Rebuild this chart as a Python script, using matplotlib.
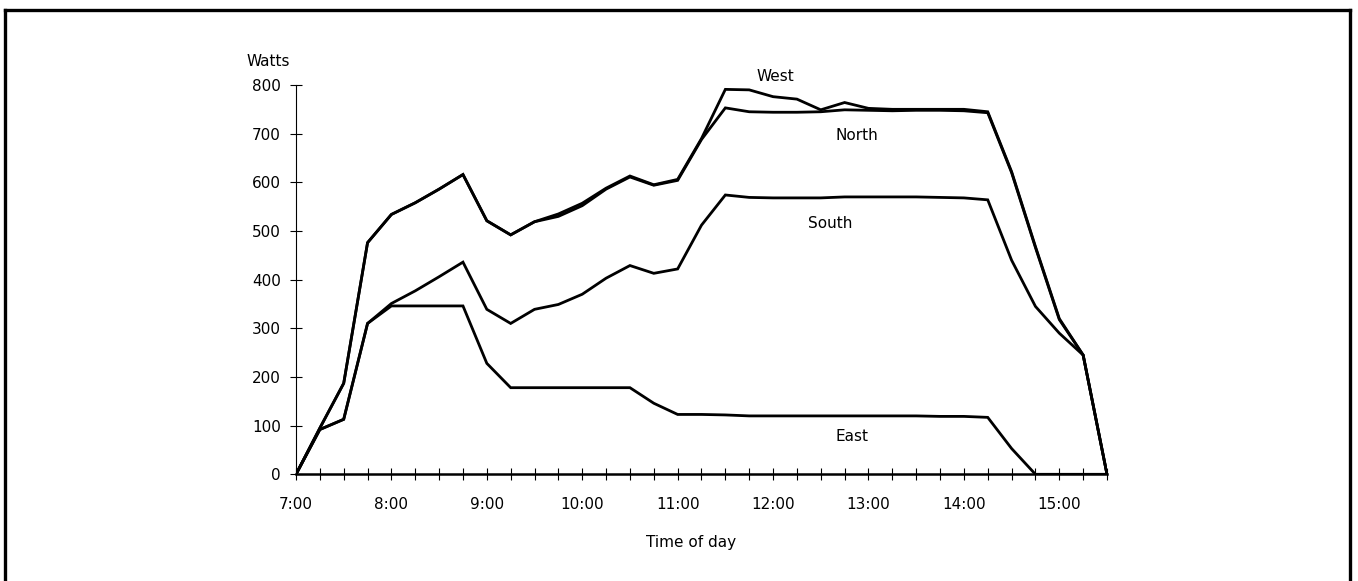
import matplotlib
matplotlib.use("Agg")
import matplotlib.pyplot as plt
from matplotlib.lines import Line2D
import numpy as np

# quarter-hour readings, 7:00 to 15:30
times = ["7:00", "7:15", "7:30", "7:45", "8:00", "8:15", "8:30", "8:45",
         "9:00", "9:15", "9:30", "9:45", "10:00", "10:15", "10:30", "10:45",
         "11:00", "11:15", "11:30", "11:45", "12:00", "12:15", "12:30", "12:45",
         "13:00", "13:15", "13:30", "13:45", "14:00", "14:15", "14:30", "14:45",
         "15:00", "15:15", "15:30"]

west = [0, 95, 187, 476, 534, 558, 586, 616, 521, 492, 519, 535, 557, 588, 613, 595,
        606, 690, 791, 790, 776, 771, 749, 764, 752, 750, 750, 750, 750, 745, 622, 468,
        320, 245, 0]
north = [0, 95, 187, 476, 534, 558, 586, 616, 521, 492, 519, 530, 552, 586, 611, 594,
         604, 688, 753, 745, 744, 744, 745, 749, 748, 747, 748, 748, 747, 743, 620, 466,
         318, 245, 0]
south = [0, 92, 113, 310, 351, 377, 406, 436, 339, 310, 339, 349, 370, 403, 429, 413,
         422, 512, 574, 569, 568, 568, 568, 570, 570, 570, 570, 569, 568, 564, 440, 345,
         290, 245, 0]
east = [0, 92, 113, 310, 346, 346, 346, 346, 228, 178, 178, 178, 178, 178, 178, 146,
        123, 123, 122, 120, 120, 120, 120, 120, 120, 120, 120, 119, 119, 117, 53, 0,
        0, 0, 0]

hour_labels = ["7:00", "8:00", "9:00", "10:00", "11:00", "12:00", "13:00", "14:00", "15:00"]
y_ticks = [0, 100, 200, 300, 400, 500, 600, 700, 800]


def to_hours(t):
    h, m = t.split(":")
    return int(h) + int(m) / 60.0


x = np.array([to_hours(t) for t in times])

fig = plt.figure(figsize=(13.58, 5.81), dpi=100)
ax = fig.add_axes([296 / 1358, 106.7 / 581, 811 / 1358, 389.3 / 581])

for series in (east, south, north, west):
    ax.plot(x, series, color="black", lw=2.0, solid_joinstyle="miter")

ax.set_xlim(7, 15.5)
ax.set_ylim(0, 800)
ax.set_xticks([to_hours(t) for t in hour_labels])
ax.set_xticklabels(hour_labels)
ax.set_xticks(x, minor=True)
ax.set_yticks(y_ticks)

for s in ("top", "right"):
    ax.spines[s].set_visible(False)
ax.spines["left"].set_linewidth(0.8)
ax.spines["bottom"].set_linewidth(1.8)
ax.tick_params(axis="x", which="both", direction="inout", length=9, width=0.8,
               labelsize=11, pad=12)
ax.tick_params(axis="y", direction="inout", length=8, width=0.8, labelsize=11, pad=7)
ax.set_facecolor("none")

ax.text(12.02, 818, "West", fontsize=11, ha="center", va="center")
ax.text(12.88, 697, "North", fontsize=11, ha="center", va="center")
ax.text(12.6, 516, "South", fontsize=11, ha="center", va="center")
ax.text(12.83, 77, "East", fontsize=11, ha="center", va="center")

fig.text(268 / 1358, 1 - 61 / 581, "Watts", fontsize=11, ha="center", va="center")
fig.text(691 / 1358, 1 - 543 / 581, "Time of day", fontsize=11, ha="center", va="center")

# frame round the figure (no bottom edge)
top = 1 - 9.5 / 581
fig.add_artist(Line2D([4.5 / 1358, 1349.5 / 1358], [top, top], color="black", lw=2.4,
                      transform=fig.transFigure))
fig.add_artist(Line2D([4.5 / 1358, 4.5 / 1358], [0, top], color="black", lw=2.4,
                      transform=fig.transFigure))
fig.add_artist(Line2D([1349.5 / 1358, 1349.5 / 1358], [0, top], color="black", lw=2.4,
                      transform=fig.transFigure))

fig.savefig("out.png", dpi=100)
